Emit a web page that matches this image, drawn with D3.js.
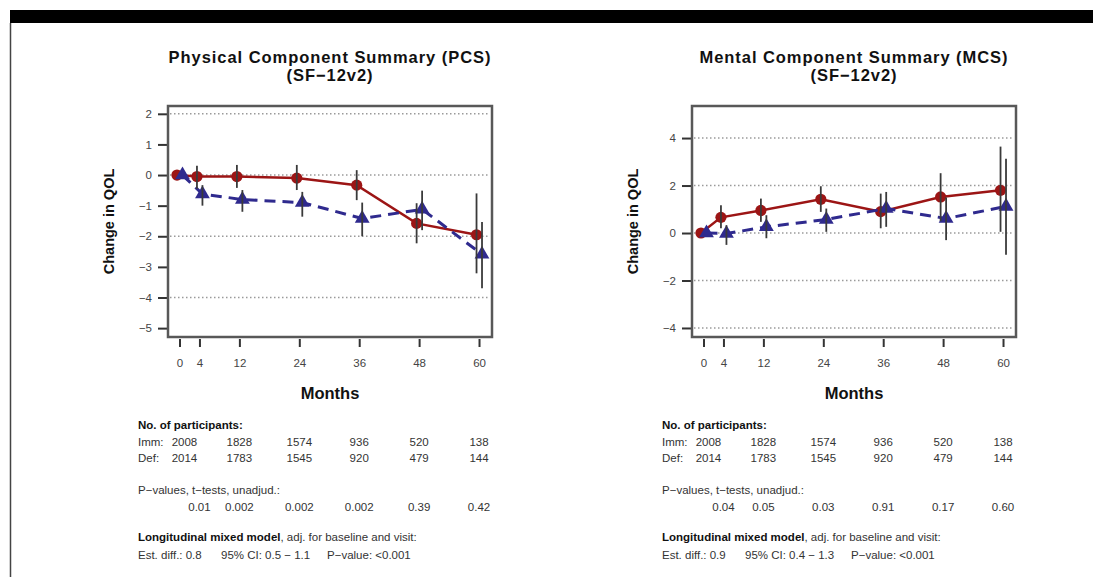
<!DOCTYPE html>
<html>
<head>
<meta charset="utf-8">
<script src="https://cdn.jsdelivr.net/npm/d3@7"></script>
<style>
body { margin: 0; background: #fff; }
svg { display: block; font-family: "Liberation Sans", Arial, Helvetica, sans-serif; }
</style>
</head>
<body>
<svg id="chart" width="1093" height="577"></svg>
<script>
// visits (months)
var months = [0, 4, 12, 24, 36, 48, 60];
// columns of the little tables under each plot, in months
var nMonths = [1, 12, 24, 36, 48, 60];
var pMonths = [4, 12, 24, 36, 48, 60];

var immN = [2008, 1828, 1574, 936, 520, 138];
var defN = [2014, 1783, 1545, 920, 479, 144];

// PCS
var pcsImm   = [0, -0.05, -0.05, -0.10, -0.33, -1.58, -1.95];
var pcsImmLo = [null, -0.45, -0.42, -0.49, -0.82, -2.23, -3.21];
var pcsImmHi = [null, 0.30, 0.33, 0.33, 0.16, -0.92, -0.60];
var pcsDef   = [0, -0.62, -0.80, -0.90, -1.42, -1.12, -2.59];
var pcsDefLo = [null, -1.00, -1.20, -1.36, -2.00, -1.80, -3.70];
var pcsDefHi = [null, -0.33, -0.49, -0.55, -0.90, -0.51, -1.53];
var pcsP = ["0.01", "0.002", "0.002", "0.002", "0.39", "0.42"];
var pcsYTicks = [-5, -4, -3, -2, -1, 0, 1, 2];
var pcsGrid = [-4, -2, 0, 2];

// MCS
var mcsImm   = [0, 0.66, 0.95, 1.42, 0.90, 1.52, 1.80];
var mcsImmLo = [null, 0.20, 0.47, 0.89, 0.20, 0.50, 0.05];
var mcsImmHi = [null, 1.17, 1.45, 1.97, 1.66, 2.52, 3.64];
var mcsDef   = [0, -0.02, 0.26, 0.57, 1.03, 0.61, 1.12];
var mcsDefLo = [null, -0.50, -0.22, 0.05, 0.26, -0.30, -0.92];
var mcsDefHi = [null, 0.33, 0.75, 1.03, 1.73, 1.50, 3.13];
var mcsP = ["0.04", "0.05", "0.03", "0.91", "0.17", "0.60"];
var mcsYTicks = [-4, -2, 0, 2, 4];
var mcsGrid = [-4, -2, 0, 2, 4];

var RED = "#9c1515", BLUE = "#2f2a8e";

var svg = d3.select('#chart');

// frame: black band on top, thin rule down the left
svg.append('rect').attr('x', 10).attr('y', 10).attr('width', 1083).attr('height', 13).attr('fill', '#000');
svg.append('line').attr('x1', 10.5).attr('x2', 10.5).attr('y1', 23).attr('y2', 577)
  .attr('stroke', '#444').attr('stroke-width', 1.5);

function series(vals, lo, hi, off) {
  return months.map(function(m, i) {
    return { m: m, v: vals[i], lo: lo[i], hi: hi[i], off: off };
  });
}

function panel(dx, o) {
  var g = svg.append('g').attr('transform', 'translate(' + dx + ',0)');
  var L = 168, R = 492, T = 106, B = 337;
  var x = d3.scaleLinear().domain([-2.3, 62.6]).range([L, R]);
  var y = d3.scaleLinear().domain(o.yDomain).range([B, T]);
  var cx = (L + R) / 2;

  // title (slightly stretched, like the original)
  var t = g.append('text').attr('text-anchor', 'middle').attr('font-weight', 'bold')
    .attr('font-size', '16.5px').attr('letter-spacing', '0.95px').attr('fill', '#111');
  t.append('tspan').attr('x', cx).attr('y', 63).text(o.title);
  t.append('tspan').attr('x', cx).attr('y', 80.5).text('(SF\u221212v2)');

  // dotted reference lines
  g.append('g').selectAll('line').data(o.grid).enter().append('line')
    .attr('x1', L + 2).attr('x2', R - 2)
    .attr('y1', function(d) { return y(d); }).attr('y2', function(d) { return y(d); })
    .attr('stroke', '#9a9a9a').attr('stroke-width', 1.5).attr('stroke-dasharray', '1.5,2.5');

  // axes
  var ya = g.append('g').attr('transform', 'translate(' + (L - 1) + ',0)')
    .call(d3.axisLeft(y).tickValues(o.yTicks).tickSize(9).tickPadding(6).tickFormat(d3.format('d')));
  ya.select('.domain').remove();
  var xa = g.append('g').attr('transform', 'translate(0,' + (B + 2) + ')')
    .call(d3.axisBottom(x).tickValues(months).tickSize(8).tickPadding(12));
  xa.select('.domain').remove();
  g.selectAll('.tick line').attr('stroke', '#333').attr('stroke-width', 2);
  g.selectAll('.tick text').attr('fill', '#444').attr('font-size', '11.5px')
    .attr('font-family', '"Liberation Sans", Arial, sans-serif');

  g.append('text').attr('x', cx).attr('y', 399).attr('text-anchor', 'middle')
    .attr('font-weight', 'bold').attr('font-size', '16.5px').attr('fill', '#111').text('Months');
  g.append('text').attr('transform', 'translate(' + (L - 54) + ',' + ((T + B) / 2) + ') rotate(-90)')
    .attr('text-anchor', 'middle').attr('font-weight', 'bold').attr('font-size', '14.5px')
    .attr('fill', '#111').text('Change in QOL');

  // box
  g.append('rect').attr('x', L).attr('y', T).attr('width', R - L).attr('height', B - T)
    .attr('fill', 'none').attr('stroke', '#585858').attr('stroke-width', 2.5);

  var imm = series(o.imm, o.immLo, o.immHi, -0.5);
  var def = series(o.def, o.defLo, o.defHi, 0.6);
  var line = d3.line()
    .x(function(d) { return x(d.m + d.off); })
    .y(function(d) { return y(d.v); });

  g.append('path').datum(imm).attr('d', line).attr('fill', 'none')
    .attr('stroke', RED).attr('stroke-width', 2.5);
  g.append('g').selectAll('circle').data(imm).enter().append('circle')
    .attr('cx', function(d) { return x(d.m + d.off); })
    .attr('cy', function(d) { return y(d.v); })
    .attr('r', 5.6).attr('fill', RED);

  g.append('path').datum(def).attr('d', line).attr('fill', 'none')
    .attr('stroke', BLUE).attr('stroke-width', 3).attr('stroke-dasharray', '11,7');
  g.append('g').selectAll('path').data(def).enter().append('path')
    .attr('d', d3.symbol(d3.symbolTriangle, 95))
    .attr('transform', function(d) { return 'translate(' + x(d.m + d.off) + ',' + y(d.v) + ')'; })
    .attr('fill', BLUE);

  // 95% CI bars
  g.append('g').selectAll('line').data(imm.concat(def).filter(function(d) { return d.lo != null; }))
    .enter().append('line')
    .attr('x1', function(d) { return x(d.m + d.off); })
    .attr('x2', function(d) { return x(d.m + d.off); })
    .attr('y1', function(d) { return y(d.lo); })
    .attr('y2', function(d) { return y(d.hi); })
    .attr('stroke', '#3a3a3a').attr('stroke-width', 1.8);

  // table underneath
  var tx = 138;
  var tab = g.append('g').attr('font-size', '11.5px').attr('fill', '#333');
  tab.append('text').attr('x', tx).attr('y', 429).attr('font-weight', 'bold').attr('fill', '#111')
    .text('No. of participants:');
  tab.append('text').attr('x', tx).attr('y', 445.5).text('Imm:');
  tab.append('text').attr('x', tx).attr('y', 462).text('Def:');
  tab.append('g').selectAll('text').data(immN).enter().append('text')
    .attr('x', function(d, i) { return x(nMonths[i]); }).attr('y', 445.5)
    .attr('text-anchor', 'middle').text(function(d) { return d; });
  tab.append('g').selectAll('text').data(defN).enter().append('text')
    .attr('x', function(d, i) { return x(nMonths[i]); }).attr('y', 462)
    .attr('text-anchor', 'middle').text(function(d) { return d; });

  tab.append('text').attr('x', tx).attr('y', 494).text('P\u2212values, t\u2212tests, unadjud.:');
  tab.append('g').selectAll('text').data(o.p).enter().append('text')
    .attr('x', function(d, i) { return x(pMonths[i]); }).attr('y', 510.5)
    .attr('text-anchor', 'middle').text(function(d) { return d; });

  var lm = tab.append('text').attr('x', tx).attr('y', 540.5);
  lm.append('tspan').attr('font-weight', 'bold').attr('fill', '#111').text('Longitudinal mixed model');
  lm.append('tspan').text(', adj. for baseline and visit:');

  var est = tab.append('text').attr('y', 558.5);
  est.append('tspan').attr('x', tx).text('Est. diff.: ' + o.est[0]);
  est.append('tspan').attr('x', tx + 83).text('95% CI: ' + o.est[1] + ' \u2212 ' + o.est[2]);
  est.append('tspan').attr('x', tx + 189).text('P\u2212value: ' + o.est[3]);
}

panel(0, {
  title: 'Physical Component Summary (PCS)',
  yDomain: [-5.29, 2.255], yTicks: pcsYTicks, grid: pcsGrid,
  imm: pcsImm, immLo: pcsImmLo, immHi: pcsImmHi,
  def: pcsDef, defLo: pcsDefLo, defHi: pcsDefHi,
  p: pcsP, est: ['0.8', '0.5', '1.1', '<0.001']
});
panel(524, {
  title: 'Mental Component Summary (MCS)',
  yDomain: [-4.38, 5.35], yTicks: mcsYTicks, grid: mcsGrid,
  imm: mcsImm, immLo: mcsImmLo, immHi: mcsImmHi,
  def: mcsDef, defLo: mcsDefLo, defHi: mcsDefHi,
  p: mcsP, est: ['0.9', '0.4', '1.3', '<0.001']
});
</script>
</body>
</html>
